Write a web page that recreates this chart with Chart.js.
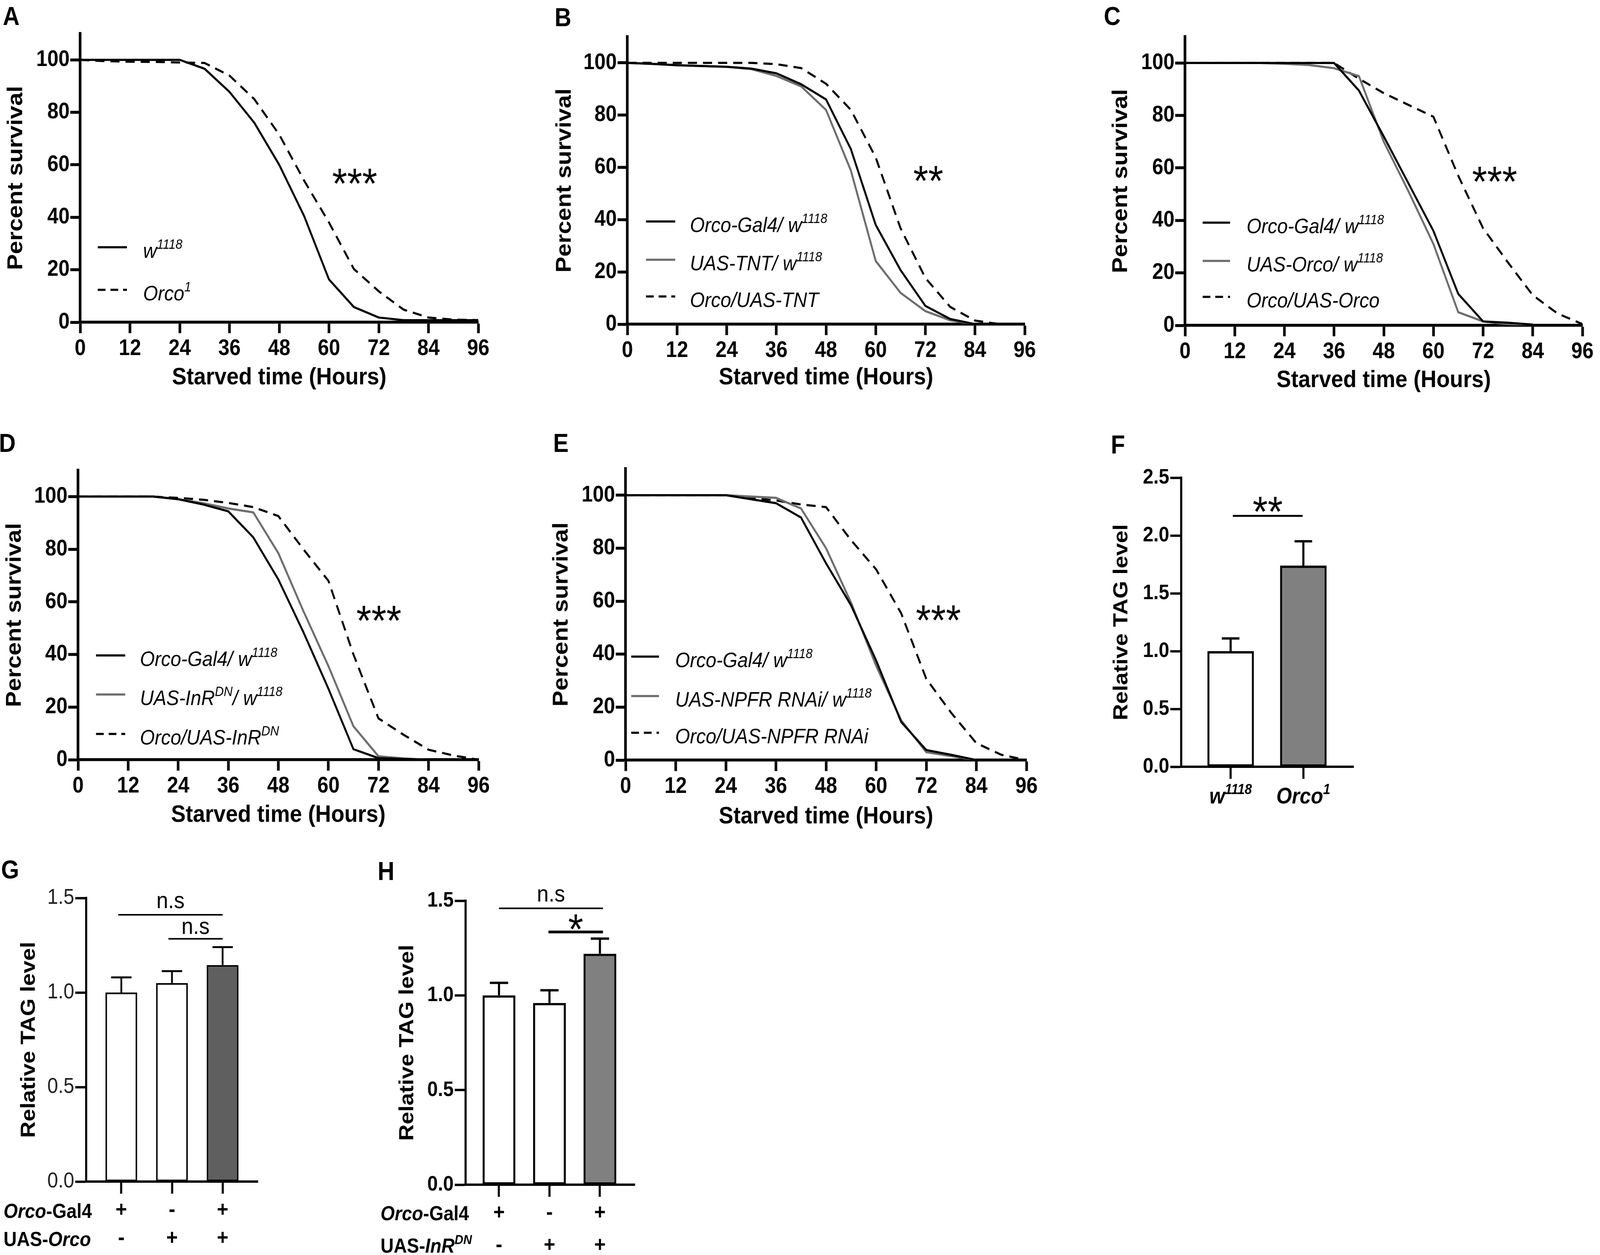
<!DOCTYPE html>
<html><head><meta charset="utf-8">
<script src="https://cdn.jsdelivr.net/npm/chart.js@4.4.1/dist/chart.umd.min.js"></script>
<style>
html,body{margin:0;padding:0;background:#fff;overflow:hidden;}
#page{position:absolute;left:0;top:0;width:4550px;height:3213px;transform-origin:0 0;font-family:"Liberation Sans",Arial,sans-serif;background:#fff;}
canvas{position:absolute;}
.lbl{position:absolute;font-weight:bold;font-size:66px;line-height:1;color:#000;}
</style></head><body>
<div id="page">
<div class="lbl" style="left:8px;top:8px">A</div>
<div class="lbl" style="left:1577px;top:11px">B</div>
<div class="lbl" style="left:3139px;top:8px">C</div>
<div class="lbl" style="left:-3px;top:1101px">D</div>
<div class="lbl" style="left:1573px;top:1101px">E</div>
<div class="lbl" style="left:3159px;top:1105px">F</div>
<div class="lbl" style="left:3px;top:2193px">G</div>
<div class="lbl" style="left:1074px;top:2197px">H</div>
<canvas id="cA"></canvas><canvas id="cB"></canvas><canvas id="cC"></canvas>
<canvas id="cD"></canvas><canvas id="cE"></canvas><canvas id="cF"></canvas>
<canvas id="cG"></canvas><canvas id="cH"></canvas>
</div>
<script>
// ---------------- data ----------------
const hours = [0,6,12,18,24,30,36,42,48,54,60,66,72,78,84,90,96];
// Panel A
const aW1118  = [100,100,100,100,100,96.6,87.8,76,60,40.5,16.3,5.8,1.8,0.8,0.8,0.8,0.8];
const aOrco1  = [100,99.5,99.3,99.2,99,98.8,94,85,71.5,54,38,20.3,11.8,4.8,1.8,1,0.8];
// Panel B
const bGal4    = [100,99.6,99.1,98.8,98.5,97.8,96,91.8,86,67,38,20.7,7,2,0,null,null];
const bTNT     = [100,99.6,99.1,98.8,98.5,97.6,95,91,82,58.8,24.2,12,5,1.5,0,null,null];
const bOrcoTNT = [100,100,100,100,100,100,99.5,98,92,82,63.8,36.7,17.7,6.6,1.4,0,null];
// Panel C
const cGal4    = [100,100,100,100,100,100,100,89.5,72,54,36,12,1.5,1,0.3,null,null];
const cUASOrco = [100,100,100,100,99.7,99.2,98,95,70,51,31,5,1.5,0.5,0,null,null];
const cOrcoUAS = [100,100,100,100,100,100,100,94,88.5,84,79.5,57,37,24,11.5,4.5,0.5];
// Panel D
const dGal4    = [100,100,100,100,99,97,94.4,84.5,68.5,48.5,27,4,0.6,0.3,0,null,null];
const dInR     = [100,100,100,100,99,97.5,95.5,94,78.5,56.5,35.6,12.7,1.3,0.5,0,null,null];
const dOrcoInR = [100,100,100,100,99.5,98.8,97.6,96,92.6,80,68,40,15.7,9.5,3.8,1.6,0];
// Panel E
const eGal4     = [100,100,100,100,100,98.5,97,91.6,74.3,58.4,37.6,14.4,3.8,2,0,null,null];
const eNPFR     = [100,100,100,100,100,99.5,99,95,80,59.4,35.6,15,3,1.5,0,null,null];
const eOrcoNPFR = [100,100,100,100,100,99,98,96.5,95.5,83,72,55.4,30.7,17.8,6.4,2,0];
// Panel F
const fMeans  = [1.0, 1.74];
const fErrTop = [1.11, 1.95];
// Panel G
const gMeans   = [1.0, 1.05, 1.145];
const gErrTop  = [1.08, 1.113, 1.24];
const gGal4    = ['+','-','+'];
const gUASOrco = ['-','+','+'];
// Panel H
const hMeans  = [1.0, 0.96, 1.22];
const hErrTop = [1.066, 1.027, 1.3];
const hGal4   = ['+','-','+'];
const hUASInR = ['-','+','+'];

// ---------------- fit the 4550x3213 design to the real viewport ----------------
const PAGE = document.getElementById('page');
const VW = window.innerWidth || 4550, VH = window.innerHeight || 3213;
const SX = VW/4550, SY = VH/3213;
if (Math.abs(SX-1) > 0.001 || Math.abs(SY-1) > 0.001) PAGE.style.transform = 'scale(' + SX + ',' + SY + ')';
const DPR = Math.max(1, (window.devicePixelRatio || 1) * Math.max(SX, SY));

// ---------------- helpers ----------------
const FAM = '"Liberation Sans", Arial, sans-serif';
Chart.defaults.font.family = FAM;
Chart.defaults.color = '#000';
const BLACK = '#000', GRAY = '#6d6d6d';
const EXTRAS = {};

function fontStr(size, bold, italic){ return (italic?'italic ':'')+(bold?'bold ':'')+size+'px '+FAM; }
function drawRich(ctx, x, y, parts, size, align, bold){
  const supSize = Math.round(size*0.65), rise = size*0.42;
  const ws = parts.map(p=>{ ctx.font = fontStr(p.sup?supSize:size, bold||p.b, p.i); return ctx.measureText(p.t).width; });
  const total = ws.reduce((a,b)=>a+b,0);
  let cx = align==='center' ? x-total/2 : (align==='right' ? x-total : x);
  ctx.textAlign='left'; ctx.textBaseline='alphabetic';
  parts.forEach((p,k)=>{ ctx.font = fontStr(p.sup?supSize:size, bold||p.b, p.i); ctx.fillText(p.t, cx, p.sup ? y-rise : y); cx += ws[k]; });
}
const extrasPlugin = {
  id:'extras',
  afterDraw(chart){
    const o = EXTRAS[chart.canvas.id]; if(!o) return;
    const ctx = chart.ctx, xs = chart.scales.x, ys = chart.scales.y, ca = chart.chartArea;
    ctx.save(); ctx.fillStyle=BLACK; ctx.strokeStyle=BLACK; ctx.setLineDash([]); ctx.lineCap='butt';
    if(o.errors){
      const meta = chart.getDatasetMeta(0), ds = chart.data.datasets[0].data;
      ctx.lineWidth = o.errors.width;
      o.errors.tops.forEach((v,i)=>{
        const px = meta.data[i].x, y0 = ys.getPixelForValue(ds[i].y), y1 = ys.getPixelForValue(v);
        ctx.beginPath(); ctx.moveTo(px,y0); ctx.lineTo(px,y1);
        ctx.moveTo(px-o.errors.cap,y1); ctx.lineTo(px+o.errors.cap,y1); ctx.stroke();
      });
    }
    (o.brackets||[]).forEach(b=>{
      const x1 = xs.getPixelForValue(b.x1), x2 = xs.getPixelForValue(b.x2), py = ys.getPixelForValue(b.y);
      ctx.lineWidth=b.w; ctx.beginPath(); ctx.moveTo(x1,py); ctx.lineTo(x2,py); ctx.stroke();
      ctx.font = fontStr(b.size, b.bold, false); ctx.textAlign='center'; ctx.textBaseline='alphabetic';
      ctx.fillText(b.text, (x1+x2)/2, py+b.dy);
    });
    (o.texts||[]).forEach(t=>{
      const px = xs.getPixelForValue(t.x), py = ys.getPixelForValue(t.y);
      ctx.font = fontStr(t.size, false, false); ctx.textAlign='center'; ctx.textBaseline='alphabetic';
      ctx.fillText(t.text, px, py + 0.47*t.size);
    });
    if(o.legend){
      const L = o.legend;
      L.items.forEach((it,k)=>{
        const y = ca.top + L.rows[k], x0 = ca.left + L.x0;
        ctx.strokeStyle = it.color; ctx.lineWidth = 5.5; ctx.setLineDash(it.dash ? [22,14] : []);
        ctx.beginPath(); ctx.moveTo(x0,y); ctx.lineTo(x0+L.len,y); ctx.stroke(); ctx.setLineDash([]);
        ctx.fillStyle = BLACK;
        drawRich(ctx, ca.left + L.tx, y + 27, it.parts, L.size, 'left', false);
      });
    }
    if(o.cats){
      o.cats.items.forEach(c=>{ drawRich(ctx, xs.getPixelForValue(c.x), ca.bottom + o.cats.dy, c.parts, o.cats.size, 'center', true); });
    }
    if(o.rows){
      o.rows.items.forEach(r=>{ drawRich(ctx, r.x, ca.bottom + r.dy, r.parts, o.rows.size, 'left', true); });
    }
    ctx.restore();
  }
};

function place(id, box){
  const c = document.getElementById(id);
  c.style.left = box.x+'px'; c.style.top = box.y+'px';
  c.style.width = box.w+'px'; c.style.height = box.h+'px';
  c.width = box.w; c.height = box.h;
  return c;
}
function axisCommon(tw){
  return {
    grid:{display:true, drawOnChartArea:false, drawTicks:true, tickLength:28, tickWidth:tw, tickColor:BLACK, offset:false},
    border:{display:true, width:tw, color:BLACK}
  };
}

function survival(id, box, area, series, xTitleY, yTitleX, extras){
  const c = place(id, box);
  EXTRAS[id] = extras;
  const ax = axisCommon(7.5);
  new Chart(c, {
    type:'line',
    data:{ datasets: series.map(s=>({
      data: hours.map((h,i)=>({x:h, y:s.data[i]})),
      borderColor:s.color, borderWidth:5.5, borderDash:s.dash?[26,17]:[],
      pointRadius:0, tension:0, fill:false, spanGaps:false
    }))},
    options:{
      responsive:false, animation:false, devicePixelRatio:DPR,
      layout:{padding:{left:0, top:area.t-box.y, right:box.x+box.w-area.r, bottom:0}},
      plugins:{legend:{display:false}, tooltip:{enabled:false}},
      scales:{
        x:{ type:'linear', min:0, max:96, offset:false,
            afterFit:s=>{ s.height = box.y+box.h-area.b; },
            ticks:{stepSize:12, autoSkip:false, maxRotation:0, font:{size:57, weight:'bold'}, padding:6, color:BLACK},
            grid:ax.grid, border:ax.border,
            title:{display:true, text:'Starved time (Hours)', color:BLACK, font:{size:62, weight:'bold'},
                   padding:{top:0, bottom: box.y+box.h-xTitleY-62*1.2/2}} },
        y:{ type:'linear', min:0, max:110,
            afterFit:s=>{ s.width = area.l-box.x; },
            ticks:{stepSize:20, includeBounds:false, font:{size:57, weight:'bold'}, padding:2, color:BLACK},
            grid:ax.grid, border:ax.border,
            title:{display:true, text:'Percent survival', color:BLACK, font:{size:61, weight:'bold'},
                   padding:{top: Math.max(0, yTitleX-box.x-61*1.2/2), bottom:0}} }
      }
    },
    plugins:[extrasPlugin]
  });
}

function bars(id, box, area, cfg, extras){
  const c = place(id, box);
  EXTRAS[id] = extras;
  const ax = axisCommon(6);
  const pos = cfg.means.map((_,i)=>i+1);
  new Chart(c, {
    type:'bar',
    data:{ datasets:[{
      data: pos.map((p,i)=>({x:p, y:cfg.means[i]})),
      backgroundColor: cfg.colors, borderColor:BLACK, borderWidth:cfg.bw, borderSkipped:false,
      barPercentage:cfg.barPct, categoryPercentage:1
    }]},
    options:{
      responsive:false, animation:false, devicePixelRatio:DPR,
      layout:{padding:{left:0, top:area.t-box.y, right:box.x+box.w-area.r, bottom:0}},
      plugins:{legend:{display:false}, tooltip:{enabled:false}},
      scales:{
        x:{ type:'linear', min:cfg.xmin, max:cfg.xmax, offset:false,
            afterFit:s=>{ s.height = box.y+box.h-area.b; },
            afterBuildTicks:s=>{ s.ticks = pos.map(p=>({value:p})); },
            ticks:{display:cfg.xLabels!==null, autoSkip:false, maxRotation:0,
                   font:{size:56, weight:'bold', lineHeight:cfg.lh}, padding:cfg.xpad, color:BLACK,
                   callback:(v)=>{ const i=Math.round(v)-1; return cfg.xLabels ? cfg.xLabels.map(r=>r[i]) : ''; }},
            grid:Object.assign({}, ax.grid, {tickLength:31}), border:ax.border },
        y:{ type:'linear', min:0, max:cfg.ymax,
            afterFit:s=>{ s.width = area.l-box.x; },
            ticks:{stepSize:0.5, font:{size:cfg.tickSize, weight:cfg.tickWeight}, padding:3, color:cfg.tickColor,
                   callback:v=>v.toFixed(1)},
            grid:Object.assign({}, ax.grid, {tickLength:31}), border:ax.border,
            title:{display:true, text:'Relative TAG level', color:BLACK, font:{size:58, weight:'bold'},
                   padding:{top: Math.max(0, cfg.yTitleX-box.x-58*1.2/2), bottom:0}} }
      }
    },
    plugins:[extrasPlugin]
  });
}

// ---------------- survival panels ----------------
const it = (t)=>({t, i:1});
const sup = (t)=>({t, i:1, sup:1});

survival('cA', {x:0,y:0,w:1440,h:1010}, {l:228,r:1360,t:86,b:825},
  [{data:aW1118,color:BLACK},{data:aOrco1,color:BLACK,dash:true}], 967, 46,
  { texts:[{x:66.2,y:55,text:'***',size:110}],
    legend:{x0:50,len:83,tx:179,rows:[547,656],size:54,items:[
      {color:BLACK,parts:[it('w'),sup('1118')]},
      {color:BLACK,dash:true,parts:[it('Orco'),sup('1')]}]}});

survival('cB', {x:1560,y:0,w:1440,h:1010}, {l:1784,r:2914,t:94,b:830},
  [{data:bGal4,color:BLACK},{data:bTNT,color:GRAY},{data:bOrcoTNT,color:BLACK,dash:true}], 967, 1606,
  { texts:[{x:72.7,y:57,text:'**',size:110}],
    legend:{x0:53,len:83,tx:178,rows:[473,571,665],size:54,items:[
      {color:BLACK,parts:[it('Orco-Gal4/ w'),sup('1118')]},
      {color:GRAY,parts:[it('UAS-TNT/ w'),sup('1118')]},
      {color:BLACK,dash:true,parts:[it('Orco/UAS-TNT')]}]}});

survival('cC', {x:3140,y:0,w:1410,h:1015}, {l:3370,r:4500,t:94,b:833},
  [{data:cGal4,color:BLACK},{data:cUASOrco,color:GRAY},{data:cOrcoUAS,color:BLACK,dash:true}], 974, 3188,
  { texts:[{x:74.8,y:57,text:'***',size:110}],
    legend:{x0:50,len:78,tx:175,rows:[476,574,666],size:54,items:[
      {color:BLACK,parts:[it('Orco-Gal4/ w'),sup('1118')]},
      {color:GRAY,parts:[it('UAS-Orco/ w'),sup('1118')]},
      {color:BLACK,dash:true,parts:[it('Orco/UAS-Orco')]}]}});

survival('cD', {x:0,y:1090,w:1440,h:1040}, {l:222,r:1361,t:1204,b:1945},
  [{data:dGal4,color:BLACK},{data:dInR,color:GRAY},{data:dOrcoInR,color:BLACK,dash:true}], 2087, 42,
  { texts:[{x:72.1,y:55,text:'***',size:110}],
    legend:{x0:51,len:83,tx:176,rows:[474,574,675],size:54,items:[
      {color:BLACK,parts:[it('Orco-Gal4/ w'),sup('1118')]},
      {color:GRAY,parts:[it('UAS-InR'),sup('DN'),it('/ w'),sup('1118')]},
      {color:BLACK,dash:true,parts:[it('Orco/UAS-InR'),sup('DN')]}]}});

survival('cE', {x:1560,y:1090,w:1440,h:1040}, {l:1779,r:2919,t:1200,b:1946},
  [{data:eGal4,color:BLACK},{data:eNPFR,color:GRAY},{data:eOrcoNPFR,color:BLACK,dash:true}], 2091, 1597,
  { texts:[{x:74.9,y:55,text:'***',size:110}],
    legend:{x0:16,len:79,tx:141,rows:[481,582,676],size:54,items:[
      {color:BLACK,parts:[it('Orco-Gal4/ w'),sup('1118')]},
      {color:GRAY,parts:[it('UAS-NPFR RNAi/ w'),sup('1118')]},
      {color:BLACK,dash:true,parts:[it('Orco/UAS-NPFR RNAi')]}]}});

// ---------------- bar panels ----------------
bars('cF', {x:3140,y:1100,w:860,h:1020}, {l:3359,r:3849,t:1223,b:1963},
  {means:fMeans, colors:['#ffffff','#808080'], bw:6, barPct:0.64, xmin:0.32, xmax:2.69, ymax:2.5,
   xLabels:null, lh:1.2, xpad:0, tickSize:54, tickWeight:'bold', tickColor:BLACK, yTitleX:3190},
  { errors:{tops:fErrTop, cap:25, width:6},
    brackets:[{x1:1.03,x2:1.99,y:2.17,w:5,text:'**',size:110,bold:false,dy:26}],
    cats:{dy:94,size:57,items:[
      {x:1,parts:[it('w'),sup('1118')]},
      {x:2,parts:[it('Orco'),sup('1')]}]}});

bars('cG', {x:0,y:2190,w:800,h:1023}, {l:245,r:733,t:2299,b:3025},
  {means:gMeans, colors:['#ffffff','#ffffff','#5f5f5f'], bw:4.5, barPct:0.625, xmin:0.306, xmax:3.694, ymax:1.5,
   xLabels:[gGal4,gUASOrco], lh:72/56, xpad:7, tickSize:55, tickWeight:'normal', tickColor:'#222', yTitleX:83},
  { errors:{tops:gErrTop, cap:29, width:5},
    brackets:[
      {x1:0.94,x2:3,y:1.411,w:4,text:'n.s',size:60,bold:false,dy:-17},
      {x1:1.93,x2:3,y:1.284,w:4,text:'n.s',size:60,bold:false,dy:-13}],
    rows:{size:52,items:[
      {x:10,dy:93,parts:[{t:'Orco',i:1},{t:'-Gal4'}]},
      {x:10,dy:165,parts:[{t:'UAS-'},{t:'Orco',i:1}]}]}});

bars('cH', {x:1070,y:2190,w:850,h:1023}, {l:1324,r:1805,t:2306,b:3033},
  {means:hMeans, colors:['#ffffff','#ffffff','#808080'], bw:6, barPct:0.65, xmin:0.338, xmax:3.69, ymax:1.5,
   xLabels:[hGal4,hUASInR], lh:83/56, xpad:0, tickSize:54, tickWeight:'bold', tickColor:BLACK, yTitleX:1159},
  { errors:{tops:hErrTop, cap:26, width:6},
    brackets:[
      {x1:1,x2:3.06,y:1.46,w:4,text:'n.s',size:60,bold:false,dy:-17},
      {x1:1.98,x2:3.06,y:1.335,w:7,text:'*',size:110,bold:false,dy:30}],
    rows:{size:52,items:[
      {x:12,dy:91,parts:[{t:'Orco',i:1},{t:'-Gal4'}]},
      {x:12,dy:174,parts:[{t:'UAS-'},{t:'InR',i:1},{t:'DN',i:1,sup:1}]}]}});
</script>
</body></html>
